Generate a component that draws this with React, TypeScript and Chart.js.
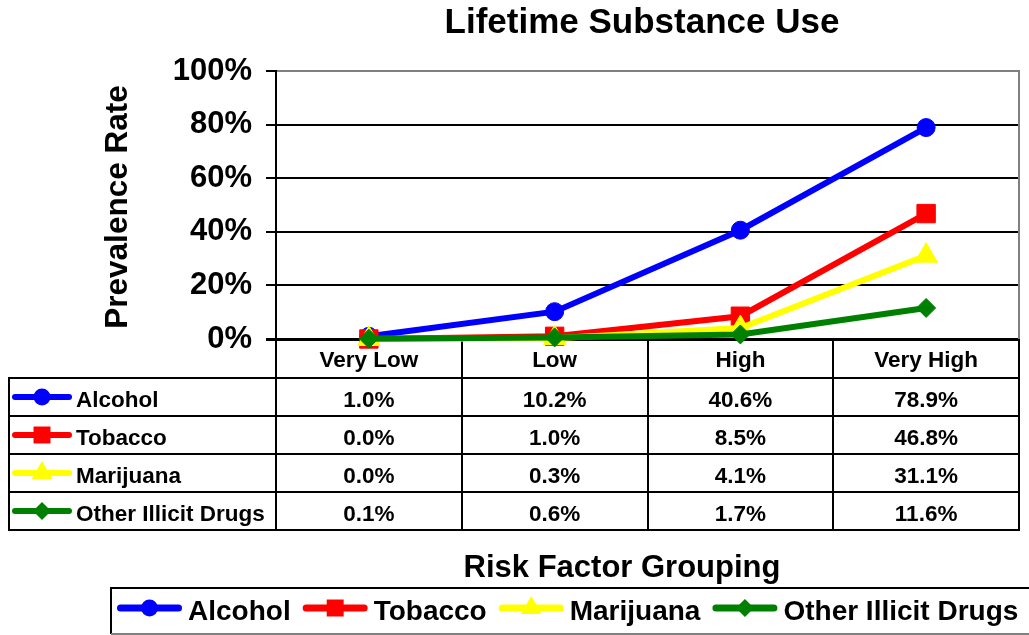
import { useEffect, useRef } from "react";
import { Chart, registerables } from "chart.js";

Chart.register(...registerables);

// ---- data ----
const categories = ["Very Low", "Low", "High", "Very High"];
const alcohol = [1.0, 10.2, 40.6, 78.9];
const tobacco = [0.0, 1.0, 8.5, 46.8];
const marijuana = [0.0, 0.3, 4.1, 31.1];
const otherDrugs = [0.1, 0.6, 1.7, 11.6];
const seriesNames = ["Alcohol", "Tobacco", "Marijuana", "Other Illicit Drugs"];
const yTicks = [0, 20, 40, 60, 80, 100];

const chartTitle = "Lifetime Substance Use";
const yTitle = "Prevalence Rate";
const xTitle = "Risk Factor Grouping";

// ---- styling ----
const seriesData = [alcohol, tobacco, marijuana, otherDrugs];
const seriesColors = ["#0000FF", "#FF0000", "#FFFF00", "#008000"];
const seriesMarkers = ["circle", "rect", "triangle", "rectRot"];
const plotRadius: Record<string, number> = { circle: 9, rect: 13, triangle: 13, rectRot: 9.5 };
const keyRadius: Record<string, number> = { circle: 8.5, rect: 12, triangle: 12, rectRot: 9 };
const FONT = '"Liberation Sans", Arial, Helvetica, sans-serif';

function drawMarker(ctx: CanvasRenderingContext2D, style: string, x: number, y: number, r: number, color: string) {
  ctx.save();
  ctx.fillStyle = color;
  ctx.beginPath();
  if (style === "circle") {
    ctx.arc(x, y, r, 0, Math.PI * 2);
  } else if (style === "rect") {
    const s = r * Math.SQRT1_2;
    ctx.rect(x - s, y - s, 2 * s, 2 * s);
  } else if (style === "triangle") {
    ctx.moveTo(x, y - r);
    ctx.lineTo(x + r * 0.866, y + r * 0.5);
    ctx.lineTo(x - r * 0.866, y + r * 0.5);
    ctx.closePath();
  } else {
    ctx.moveTo(x - r, y);
    ctx.lineTo(x, y - r);
    ctx.lineTo(x + r, y);
    ctx.lineTo(x, y + r);
    ctx.closePath();
  }
  ctx.fill();
  ctx.restore();
}

function drawKey(ctx: CanvasRenderingContext2D, x0: number, x1: number, y: number, i: number, lw: number) {
  const color = seriesColors[i];
  const style = seriesMarkers[i];
  ctx.save();
  ctx.strokeStyle = color;
  ctx.lineWidth = lw;
  ctx.lineCap = "round";
  ctx.beginPath();
  ctx.moveTo(x0 + lw / 2, y);
  ctx.lineTo(x1 - lw / 2, y);
  ctx.stroke();
  ctx.restore();
  drawMarker(ctx, style, (x0 + x1) / 2, y, keyRadius[style], color);
}

function line(ctx: CanvasRenderingContext2D, x0: number, y0: number, x1: number, y1: number, color: string, lw: number) {
  ctx.save();
  ctx.strokeStyle = color;
  ctx.lineWidth = lw;
  ctx.beginPath();
  ctx.moveTo(x0, y0);
  ctx.lineTo(x1, y1);
  ctx.stroke();
  ctx.restore();
}

// Data table under the plot, titles and the boxed legend.
const decorations = {
  id: "decorations",
  beforeDatasetsDraw(chart: any) {
    const { ctx, chartArea } = chart;
    const x = chart.scales.x;
    const step = x.getPixelForValue(1) - x.getPixelForValue(0);
    const top = chartArea.bottom;
    const headerH = 39;
    const rowH = 38;
    const bodyTop = top + headerH;
    const bottom = bodyTop + rowH * seriesNames.length;
    const tableLeft = 9;

    // right border of the plot
    line(ctx, chartArea.right, chartArea.top - 1, chartArea.right, top, "#808080", 2);

    // column lines
    for (let i = 0; i <= categories.length; i++) {
      const xe = Math.round(x.getPixelForValue(0) - step / 2 + i * step);
      line(ctx, xe, top, xe, bottom + 1, "#000", 2);
    }
    line(ctx, tableLeft, bodyTop - 1, tableLeft, bottom + 1, "#000", 2);
    for (let r = 0; r <= seriesNames.length; r++) {
      const y = Math.round(bodyTop + r * rowH);
      line(ctx, tableLeft - 1, y, chartArea.right + 1, y, "#000", 2);
    }

    ctx.save();
    ctx.fillStyle = "#000";
    ctx.font = `bold 22.5px ${FONT}`;
    ctx.textBaseline = "alphabetic";
    ctx.textAlign = "center";
    categories.forEach((c, i) => {
      ctx.fillText(c, x.getPixelForValue(i), top + 28);
    });
    seriesNames.forEach((name, r) => {
      const rowTop = bodyTop + r * rowH;
      ctx.textAlign = "center";
      seriesData[r].forEach((v, i) => {
        ctx.fillText(v.toFixed(1) + "%", x.getPixelForValue(i), rowTop + 29);
      });
      ctx.textAlign = "left";
      ctx.fillText(name, 76, rowTop + 29);
      drawKey(ctx, 12, 72, rowTop + rowH / 2, r, 6);
    });
    ctx.restore();
  },
  afterDraw(chart: any) {
    const { ctx, chartArea } = chart;
    ctx.save();
    ctx.fillStyle = "#000";
    ctx.textBaseline = "alphabetic";

    // chart title
    ctx.textAlign = "center";
    ctx.font = `bold 35px ${FONT}`;
    ctx.fillText(chartTitle, 642, 33);

    // x axis title
    ctx.font = `bold 31px ${FONT}`;
    ctx.fillText(xTitle, 622, 577);

    // y axis title
    ctx.save();
    ctx.translate(127, (chartArea.top + chartArea.bottom) / 2 + 2);
    ctx.rotate(-Math.PI / 2);
    ctx.font = `bold 31.5px ${FONT}`;
    ctx.fillText(yTitle, 0, 0);
    ctx.restore();

    // legend box
    const boxL = 111;
    const boxT = 588;
    const boxB = 634;
    line(ctx, boxL - 1, boxT, chart.width, boxT, "#000", 2);
    line(ctx, boxL, boxT, boxL, boxB, "#000", 2);
    line(ctx, boxL, boxB, chart.width, boxB, "#808080", 2);

    ctx.font = `bold 28px ${FONT}`;
    ctx.textAlign = "left";
    let cx = 117;
    seriesNames.forEach((name, i) => {
      drawKey(ctx, cx, cx + 65, 608, i, 7);
      cx += 71;
      ctx.fillText(name, cx, 620);
      cx += ctx.measureText(name).width + 12;
    });
    ctx.restore();
  },
};

export default function App() {
  const canvasRef = useRef<HTMLCanvasElement>(null);

  useEffect(() => {
    const canvas = canvasRef.current;
    if (!canvas) return;
    const chart = new Chart(canvas, {
      type: "line",
      data: {
        labels: categories,
        datasets: seriesNames.map((name, i) => ({
          label: name,
          data: seriesData[i],
          borderColor: seriesColors[i],
          backgroundColor: seriesColors[i],
          borderWidth: 6,
          pointStyle: seriesMarkers[i] as any,
          pointRadius: plotRadius[seriesMarkers[i]],
          pointBorderWidth: 1,
          pointBackgroundColor: seriesColors[i],
          pointBorderColor: seriesColors[i],
          tension: 0,
          clip: false as any,
          order: seriesNames.length - i,
        })),
      },
      options: {
        animation: false,
        responsive: false,
        devicePixelRatio: 1,
        layout: { autoPadding: false, padding: { top: 71, right: 10, bottom: 296, left: 0 } },
        plugins: {
          legend: { display: false },
          tooltip: { enabled: false },
          title: { display: false },
        },
        scales: {
          x: { type: "category", offset: true, display: false },
          y: {
            min: 0,
            max: 100,
            afterFit: (s: any) => {
              s.width = 276;
            },
            afterBuildTicks: (s: any) => {
              s.ticks = yTicks.map((v) => ({ value: v }));
            },
            ticks: {
              callback: (v: any) => v + "%",
              color: "#000",
              padding: 14,
              font: { family: FONT, size: 31, weight: "bold" },
            },
            grid: {
              color: (c: any) => (c.tick && c.tick.value === 100 ? "#808080" : "#000"),
              lineWidth: (c: any) => (c.tick && c.tick.value === 0 ? 3 : 2),
              tickLength: 10,
              tickColor: "#000",
              drawTicks: true,
            },
            border: { display: true, color: "#000", width: 2 },
          },
        },
      },
      plugins: [decorations],
    });
    return () => chart.destroy();
  }, []);

  return (
    <div style={{ position: "fixed", left: 0, top: 0, width: 1029, height: 635, background: "#fff" }}>
      <canvas ref={canvasRef} width={1029} height={635} style={{ display: "block", width: 1029, height: 635 }} />
    </div>
  );
}
